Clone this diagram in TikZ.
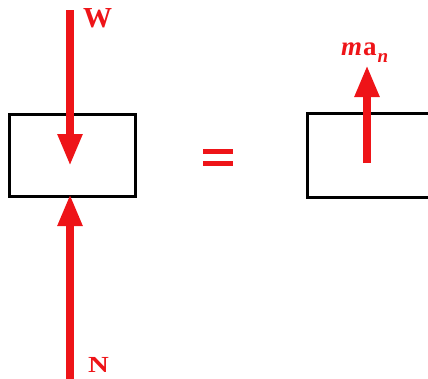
\documentclass[tikz,border=0pt]{standalone}
\usepackage{fontspec}
\setmainfont{Liberation Serif}
\usetikzlibrary{arrows.meta}
\definecolor{fred}{RGB}{238,20,24}
\tikzset{
  body/.style={draw=black, line width=3pt, fill=white, rectangle, inner sep=0pt},
  force/.style={draw=fred, line width=8pt, -{Triangle[width=23pt,length=32pt]}},
  flabel/.style={text=fred, font=\bfseries, inner sep=0pt},
}
\begin{document}
\begin{tikzpicture}[x=1pt,y=-1pt]
\useasboundingbox (0,0) rectangle (428,378);
\clip (0,0) rectangle (428,378);
% left body
\node[body, minimum width=126pt, minimum height=82pt] (lbox) at (72,155) {};
% right body (extends beyond the right edge)
\node[body, minimum width=140pt, minimum height=84pt] (rbox) at (377,155) {};
% W
\coordinate (wtop) at (70,10);
\coordinate (wtip) at (70,166);
\draw[force] (wtop) -- (wtip);
\node[flabel, font=\fontsize{29}{29}\selectfont\bfseries] (wlab) at (97.5,18.5) {W};
% N
\coordinate (nbot) at (70,380);
\coordinate (ntip) at (70,194);
\draw[force] (nbot) -- (ntip);
\node[flabel, font=\fontsize{23}{23}\selectfont\bfseries, xscale=1.25] (nlab) at (98.5,365) {N};
% equals
\draw[fred, line width=5pt] (203,151) -- (233,151);
\draw[fred, line width=5pt] (203,163) -- (233,163);
% m a_n
\coordinate (mbot) at (367,163);
\coordinate (mtip) at (367,65);
\draw[force] (mbot) -- (mtip);
\node[text=fred, font=\fontsize{27}{27}\selectfont, inner sep=0pt, anchor=base west] (malab) at (341,55) {\textbf{\textit{m}}\kern1pt\textbf{a}\kern1pt\raisebox{-7pt}{\fontsize{19}{19}\selectfont\textbf{\textit{n}}}};
\end{tikzpicture}
\end{document}
